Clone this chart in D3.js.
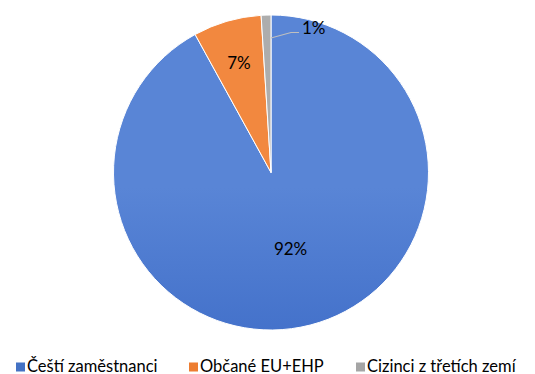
<!DOCTYPE html>
<html>
<head>
<meta charset="utf-8">
<script src="https://cdn.jsdelivr.net/npm/d3@7/dist/d3.min.js"></script>
<style>
  html, body { margin: 0; padding: 0; background: #fff; }
  svg { display: block; }
  text { font-family: Lato, "Open Sans", sans-serif; fill: #000; }
</style>
</head>
<body>
<div id="chart"></div>
<script>
// Employee structure by nationality
const categories = ["Čeští zaměstnanci", "Občané EU+EHP", "Cizinci z třetích zemí"];
const values = [92, 7, 1];
const valueLabels = ["92%", "7%", "1%"];
const colorsTop = ["#5985D6", "#F2883F", "#ADADAD"];
const colorsBottom = ["#2B5BBD", "#E6671D", "#9A9A9A"];
const colorsLegend = ["#4472C4", "#ED7D31", "#A5A5A5"];

const width = 535, height = 374;
const cx = 271, cy = 172.5, r = 157.5;

const svg = d3.select("#chart").append("svg")
  .attr("width", width).attr("height", height);

// vertical gradients spanning the pie's bounding box
const defs = svg.append("defs");
categories.forEach((c, i) => {
  const g = defs.append("linearGradient")
    .attr("id", "grad" + i)
    .attr("gradientUnits", "userSpaceOnUse")
    .attr("x1", 0).attr("y1", cy - r)
    .attr("x2", 0).attr("y2", cy + r);
  g.append("stop").attr("offset", "0%").attr("stop-color", colorsTop[i]);
  g.append("stop").attr("offset", "100%").attr("stop-color", colorsBottom[i]);
});

const pie = d3.pie().sort(null).value(d => d)(values);
const arc = d3.arc().innerRadius(0).outerRadius(r);

const g = svg.append("g").attr("transform", `translate(${cx},${cy})`);

g.selectAll("path.slice")
  .data(pie)
  .join("path")
  .attr("class", "slice")
  .attr("d", arc)
  .attr("fill", (d, i) => `url(#grad${i})`)
  .attr("stroke", "#fff")
  .attr("stroke-width", 1);

// inner labels for the two larger slices
const labelRadius = [0.5 * r, 0.73 * r];
[0, 1].forEach(i => {
  const d = pie[i];
  const [x, y] = d3.arc().innerRadius(labelRadius[i]).outerRadius(labelRadius[i]).centroid(d);
  g.append("text")
    .attr("x", x).attr("y", y)
    .attr("text-anchor", "middle")
    .attr("dominant-baseline", "central")
    .style("font-size", "17px")
    .text(valueLabels[i]);
});

// small slice: outside label with leader line
{
  const d = pie[2];
  const start = [Math.sin(d.endAngle) * (r - 23), -Math.cos(d.endAngle) * (r - 23)];
  const bend = [start[0] + 20, start[1] - 5.5];
  const end = [bend[0] + 8, bend[1]];
  g.append("polyline")
    .attr("points", [start, bend, end].map(p => p.join(",")).join(" "))
    .attr("fill", "none")
    .attr("stroke", "#BFBFBF")
    .attr("stroke-width", 1.2);
  g.append("text")
    .attr("x", end[0] + 3).attr("y", end[1] - 5)
    .attr("dominant-baseline", "central")
    .style("font-size", "17px")
    .text(valueLabels[2]);
}

// legend
const legendX = [16, 189, 356];
const legend = svg.append("g");
categories.forEach((c, i) => {
  legend.append("rect")
    .attr("x", legendX[i]).attr("y", 362.5)
    .attr("width", 9).attr("height", 9)
    .attr("fill", colorsLegend[i]);
  legend.append("text")
    .attr("x", legendX[i] + 11).attr("y", 371.5)
    .style("font-size", "16.5px")
    .text(c);
});
</script>
</body>
</html>
